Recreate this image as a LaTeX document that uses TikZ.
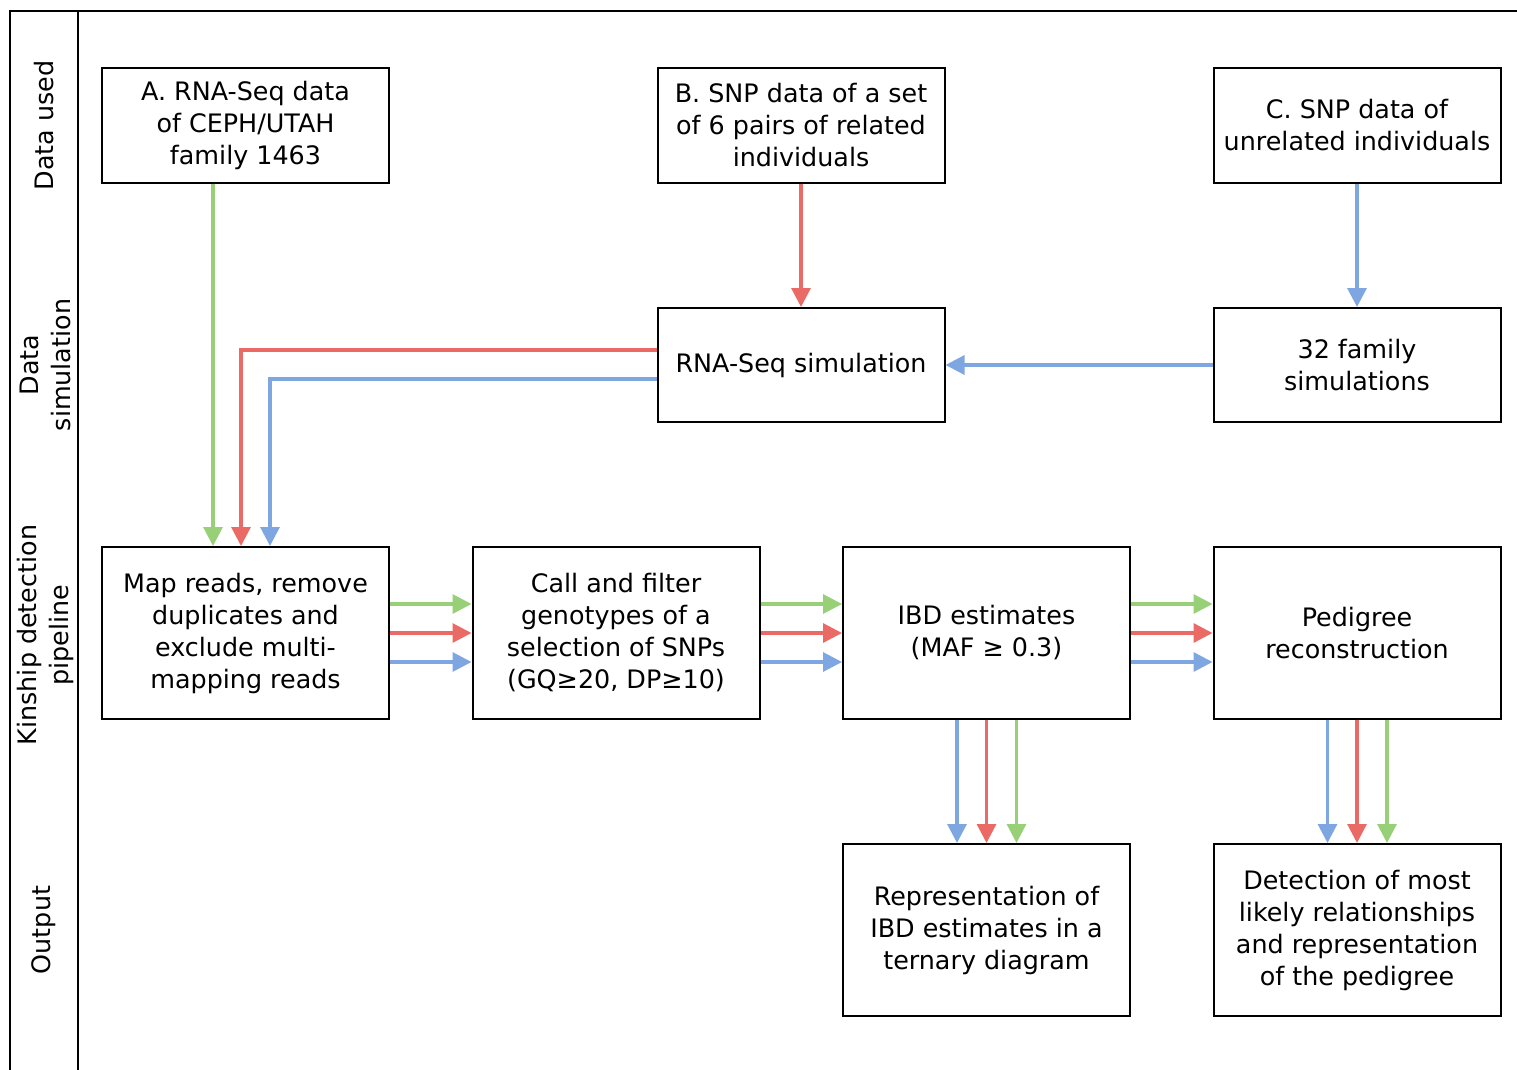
\documentclass[tikz,border=0pt]{standalone}
\usepackage{fontspec}
\setmainfont{DejaVu Sans}
\usetikzlibrary{arrows.meta,calc}
\definecolor{cgreen}{HTML}{97D077}
\definecolor{cred}{HTML}{EA6B66}
\definecolor{cblue}{HTML}{7EA6E0}
\tikzset{
  box/.style={draw=black,line width=2pt,minimum width=287pt,align=center,inner sep=0pt,
    font=\fontsize{25.4}{32}\selectfont},
  lane/.style={rotate=90,align=center,font=\fontsize{25.4}{32}\selectfont},
  arr/.style={line width=3.2pt,-{Triangle[length=19pt,width=19pt]}},
  garr/.style={arr,draw=cgreen,color=cgreen},
  rarr/.style={arr,draw=cred,color=cred},
  barr/.style={arr,draw=cblue,color=cblue},
}
\begin{document}
\begin{tikzpicture}[x=1pt,y=-1pt]
\useasboundingbox (0,0) rectangle (1517,1070);
% lanes
\draw[line width=2pt] (10,1075) -- (10,11) -- (1520,11);
\draw[line width=2pt] (78,11) -- (78,1075);
\node[lane] (l1) at (44,125.5) {Data used};
\node[lane] (l2) at (45,365) {Data\\simulation};
\node[lane] (l3) at (45,635) {Kinship detection\\pipeline};
\node[lane] (l4) at (44,930) {Output};
% boxes
\node[box,minimum height=115pt] (A) at (245.5,125.5) {A. RNA-Seq data\\of CEPH/UTAH\\family 1463};
\node[box,minimum height=115pt] (B) at (801,125.5) {B. SNP data of a set\\of 6 pairs of related\\individuals};
\node[box,minimum height=115pt] (C) at (1357,125.5) {C. SNP data of\\unrelated individuals};
\node[box,minimum height=114pt] (Sim) at (801,365) {RNA-Seq simulation};
\node[box,minimum height=114pt] (Fam) at (1357,365) {32 family\\simulations};
\node[box,minimum height=172pt] (Map) at (245.5,633) {Map reads, remove\\duplicates and\\exclude multi-\\mapping reads};
\node[box,minimum height=172pt] (Call) at (616,633) {Call and filter\\genotypes of a\\selection of SNPs\\(GQ≥20, DP≥10)};
\node[box,minimum height=172pt] (IBD) at (986.5,633) {IBD estimates\\(MAF ≥ 0.3)};
\node[box,minimum height=172pt] (Ped) at (1357,633) {Pedigree\\reconstruction};
\node[box,minimum height=172pt] (Rep) at (986.5,930) {Representation of\\IBD estimates in a\\ternary diagram};
\node[box,minimum height=172pt] (Det) at (1357,930) {Detection of most\\likely relationships\\and representation\\of the pedigree};
% data flow
\draw[garr] ($(A.south)+(-32.5,0)$) -- ($(Map.north)+(-32.5,0)$);
\draw[rarr] (B) -- (Sim);
\draw[barr] (C) -- (Fam);
\draw[barr] (Fam) -- (Sim);
\draw[rarr] ($(Sim.west)+(0,-15)$) -| ($(Map.north)+(-4.5,0)$);
\draw[barr] ($(Sim.west)+(0,14)$) -| ($(Map.north)+(24.5,0)$);
% pipeline
\foreach \s/\t in {Map/Call,Call/IBD,IBD/Ped}{
  \draw[garr] ($(\s.east)+(0,-29)$) -- ($(\t.west)+(0,-29)$);
  \draw[rarr] (\s.east) -- (\t.west);
  \draw[barr] ($(\s.east)+(0,29)$) -- ($(\t.west)+(0,29)$);
}
\foreach \s/\t in {IBD/Rep,Ped/Det}{
  \draw[barr] ($(\s.south)+(-29.5,0)$) -- ($(\t.north)+(-29.5,0)$);
  \draw[rarr] (\s.south) -- (\t.north);
  \draw[garr] ($(\s.south)+(30,0)$) -- ($(\t.north)+(30,0)$);
}
\end{tikzpicture}
\end{document}
